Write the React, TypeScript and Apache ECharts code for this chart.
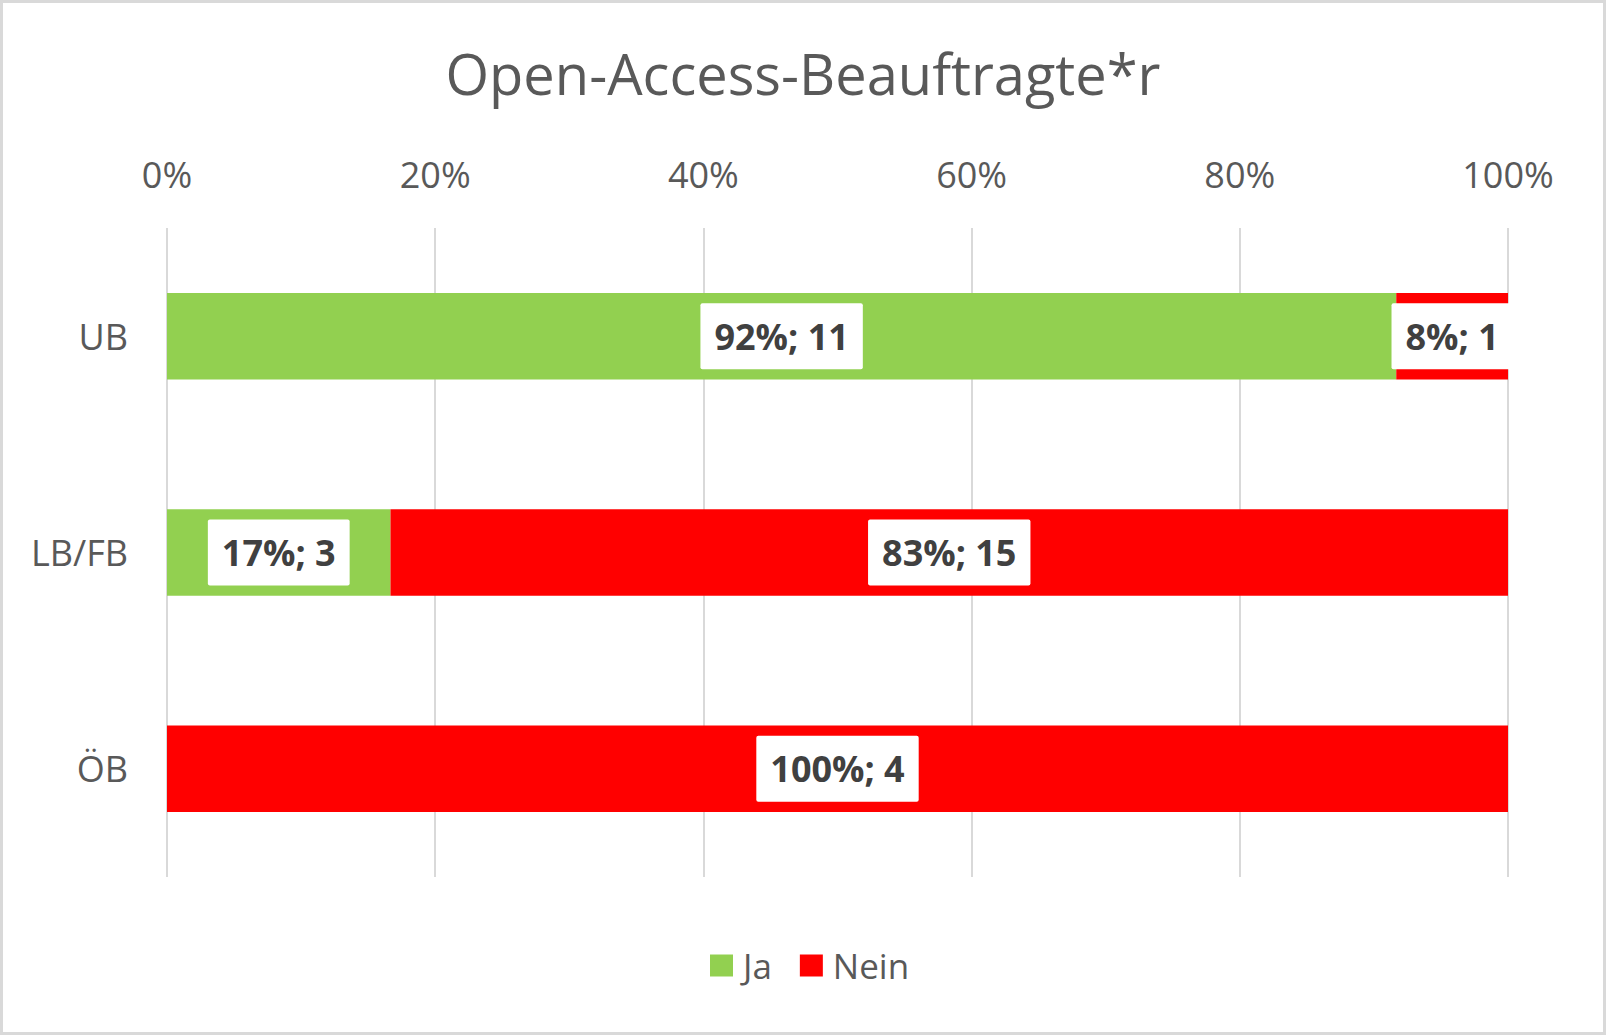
import React, { useEffect, useRef } from "react";
import * as echarts from "echarts";

const categories = ["UB", "LB/FB", "ÖB"];
const jaCounts = [11, 3, 0];
const neinCounts = [1, 15, 4];
const xTicks = [0, 20, 40, 60, 80, 100];
const titleText = "Open-Access-Beauftragte*r";

const FONT = "'Open Sans', 'Noto Sans', sans-serif";

export default function App() {
  const ref = useRef<HTMLDivElement>(null);
  useEffect(() => {
    if (!ref.current) return;
    const chart = echarts.init(ref.current, undefined, { renderer: "svg" });
    const totals = categories.map((_, i) => jaCounts[i] + neinCounts[i]);
    const mk = (counts: number[]) =>
      counts.map((c, i) => (c === 0 ? null : { value: (c / totals[i]) * 100, count: c }));
    const labelCfg = {
      show: true,
      position: "inside",
      fontFamily: FONT,
      fontSize: 36,
      fontWeight: "bold",
      color: "#404040",
      backgroundColor: "#ffffff",
      padding: [13, 14, 13, 14],
      lineHeight: 40,
      borderRadius: 2,
      formatter: (p: any) => `${Math.round(p.value)}%; ${p.data.count}`,
    };
    chart.setOption({
      animation: false,
      backgroundColor: "#ffffff",
      textStyle: { fontFamily: FONT },
      title: {
        text: titleText,
        left: "center",
        top: 40,
        textStyle: { fontFamily: FONT, fontSize: 56, fontWeight: "normal", color: "#595959" },
      },
      legend: {
        data: ["Ja", "Nein"],
        bottom: 47,
        left: 705,
        itemWidth: 23,
        itemHeight: 22,
        itemGap: 28,
        icon: "rect",
        textStyle: { fontFamily: FONT, fontSize: 35, color: "#595959", padding: [0, 0, 0, 5] },
      },
      grid: { left: 167, right: 98, top: 228, bottom: 158, containLabel: false },
      xAxis: {
        type: "value",
        position: "top",
        min: xTicks[0],
        max: xTicks[xTicks.length - 1],
        interval: 20,
        axisLine: { show: false },
        axisTick: { show: false },
        axisLabel: {
          formatter: "{value}%",
          fontFamily: FONT,
          fontSize: 36,
          color: "#595959",
          margin: 36,
        },
        splitLine: { show: true, lineStyle: { color: "#d9d9d9", width: 2 } },
      },
      yAxis: {
        type: "category",
        data: categories,
        inverse: true,
        axisLine: { show: false },
        axisTick: { show: false },
        axisLabel: { fontFamily: FONT, fontSize: 36, color: "#595959", margin: 39 },
        splitLine: { show: false },
      },
      series: [
        {
          name: "Ja",
          type: "bar",
          stack: "total",
          barWidth: "40%",
          itemStyle: { color: "#92D050" },
          label: labelCfg,
          data: mk(jaCounts),
        },
        {
          name: "Nein",
          type: "bar",
          stack: "total",
          barWidth: "40%",
          itemStyle: { color: "#FF0000" },
          label: labelCfg,
          data: mk(neinCounts),
        },
      ],
      graphic: [
        {
          type: "rect",
          shape: { x: 1.5, y: 1.5, width: 1603, height: 1032 },
          style: { fill: "none", stroke: "#d9d9d9", lineWidth: 3 },
          silent: true,
          z: 100,
        },
      ],
    });
    return () => chart.dispose();
  }, []);
  return (
    <div
      ref={ref}
      style={{ position: "fixed", left: 0, top: 0, width: 1606, height: 1035 }}
    />
  );
}
